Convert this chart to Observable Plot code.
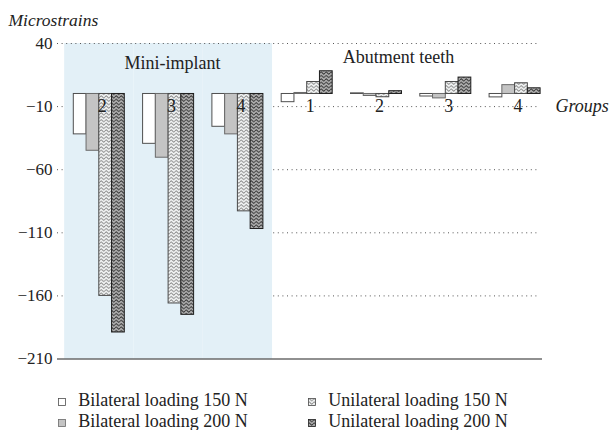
<!DOCTYPE html>
<html><head><meta charset="utf-8">
<script src="https://cdn.jsdelivr.net/npm/d3@7"></script>
<script src="https://cdn.jsdelivr.net/npm/@observablehq/plot@0.6"></script>
<style>
body{margin:0;background:#fff;font-family:"Liberation Serif",serif;}
#chart{position:relative;width:609px;height:430px;overflow:hidden;background:#fff}
#legend{position:relative;width:609px;height:58px;font-size:18px;color:#222;font-family:"Liberation Serif",serif}
#legend .sw{position:absolute;width:8px;height:8px}
#legend .lab{position:absolute;line-height:20px;white-space:nowrap}
</style></head><body>
<svg width="0" height="0" style="position:absolute">
<defs>
<pattern id="waveLight" patternUnits="userSpaceOnUse" width="5" height="3.4">
<rect width="5" height="3.4" fill="#f3f5f5"/>
<path d="M0,1.7 L1.25,0.6 L2.5,1.7 L3.75,2.8 L5,1.7" fill="none" stroke="#8a8a8a" stroke-width="0.9"/>
</pattern>
<pattern id="waveDark" patternUnits="userSpaceOnUse" width="5" height="3.4">
<rect width="5" height="3.4" fill="#b0b0b0"/>
<path d="M0,1.7 L1.25,0.6 L2.5,1.7 L3.75,2.8 L5,1.7" fill="none" stroke="#333" stroke-width="0.9"/>
</pattern>
</defs></svg>
<div id="chart"></div>
<script>
// ---- data ----
const miniGroups = ["M2", "M3", "M4"];
const abutmentGroups = ["A1", "A2", "A3", "A4"];
const groupKeys = [...miniGroups, ...abutmentGroups];
const groupLabels = ["2", "3", "4", "1", "2", "3", "4"];
const seriesNames = ["Bilateral loading 150 N", "Bilateral loading 200 N", "Unilateral loading 150 N", "Unilateral loading 200 N"];
const bilateral150 = [-32, -39.5, -26, -6.5, 0.5, -2, -2.7];
const bilateral200 = [-45, -50.5, -32, 0.8, -1.6, -3.5, 7];
const unilateral150 = [-160, -166, -93, 9.5, -2.6, 9.5, 8.5];
const unilateral200 = [-189, -175, -107, 18, 2.2, 13, 4.5];
const yTicks = [40, -10, -60, -110, -160, -210];
const gridTicks = [-10, -60, -110, -160];
const regionTitles = ["Mini-implant", "Abutment teeth"];
const yTitle = "Microstrains";
const xTitle = "Groups";

// ---- styles ----
const seriesValues = [bilateral150, bilateral200, unilateral150, unilateral200];
const seriesStyle = [
  {fill: "#ffffff", stroke: "#4f4f4f"},
  {fill: "#c4c4c4", stroke: "#6a6a6a"},
  {fill: "url(#waveLight)", stroke: "#4a4a4a"},
  {fill: "url(#waveDark)", stroke: "#1e1e1e"}
];
const xRange = [64.15, 549.25];
const padIn = 0.264, padOut = 0.132;
const step = (xRange[1] - xRange[0]) / (groupKeys.length - padIn + 2 * padOut);
const bw = step * (1 - padIn);
const sub = bw / seriesNames.length;
const halfGap = step * padIn / 2;

const barMarks = seriesValues.map((vals, s) =>
  Plot.barY(groupKeys.map((g, i) => ({group: g, value: vals[i]})), {
    x: "group", y: "value",
    fill: seriesStyle[s].fill, stroke: seriesStyle[s].stroke, strokeWidth: 1,
    insetLeft: s * sub, insetRight: (seriesNames.length - 1 - s) * sub
  })
);

const chart = Plot.plot({
  width: 609, height: 372,
  marginTop: 43, marginBottom: 13.5, marginLeft: 63, marginRight: 71,
  style: {fontFamily: "'Liberation Serif', serif", fontSize: "18px", color: "#222", background: "transparent", overflow: "visible"},
  x: {type: "band", domain: groupKeys, range: xRange, paddingInner: padIn, paddingOuter: padOut, round: false, axis: null},
  y: {domain: [-210, 40]},
  marks: [
    Plot.ruleY(gridTicks, {stroke: "#555", strokeDasharray: "1,3.6", insetLeft: -6}),
    Plot.barY(miniGroups, {x: d => d, y1: -210, y2: 40, fill: "#e3f0f7", insetLeft: -halfGap, insetRight: -halfGap}),
    Plot.ruleY([40], {stroke: "#555", strokeDasharray: "1,3.6", insetLeft: -6}),
    Plot.ruleY([-210], {stroke: "#222", strokeWidth: 1.2, insetLeft: -6, insetRight: -4}),
    ...barMarks,
    Plot.text(groupKeys, {x: d => d, y: -10, text: (d, i) => groupLabels[i], dx: 3, fill: "#222"}),
    Plot.text([regionTitles[0]], {x: () => miniGroups[1], y: 24, dx: 4, fill: "#222"}),
    Plot.text([regionTitles[1]], {x: () => abutmentGroups[1], y: 29, dx: 22, fill: "#222"}),
    Plot.text([xTitle], {frameAnchor: "right", y: -10, textAnchor: "start", lineAnchor: "middle", dx: 17, fontStyle: "italic", fill: "#222"}),
    Plot.text([yTitle], {frameAnchor: "top-left", dx: -55, dy: -23, textAnchor: "start", lineAnchor: "middle", fontStyle: "italic", fontSize: 17.5, fill: "#222"}),
    Plot.axisY({ticks: yTicks, tickSize: 0, tickPadding: 11, label: null, fill: "#222", fontSize: 17})
  ]
});

const root = document.getElementById("chart");
root.appendChild(chart);

// ---- legend (below the chart) ----
const legend = document.createElement("div");
legend.id = "legend";
const colX = [61.7, 311.7];
const rowY = [27.5, 49];
seriesNames.forEach((name, s) => {
  const col = Math.floor(s / 2), row = s % 2;
  const sw = document.createElementNS("http://www.w3.org/2000/svg", "svg");
  sw.setAttribute("class", "sw");
  sw.setAttribute("width", 8); sw.setAttribute("height", 8);
  sw.style.left = (colX[col] - 4) + "px";
  sw.style.top = (rowY[row] - 2) + "px";
  const r = document.createElementNS("http://www.w3.org/2000/svg", "rect");
  r.setAttribute("x", 0.5); r.setAttribute("y", 0.5); r.setAttribute("width", 7); r.setAttribute("height", 7);
  r.setAttribute("fill", seriesStyle[s].fill); r.setAttribute("stroke", seriesStyle[s].stroke); r.setAttribute("stroke-width", 0.8);
  sw.appendChild(r);
  legend.appendChild(sw);
  const t = document.createElement("div");
  t.className = "lab";
  t.textContent = name;
  t.style.left = (colX[col] + 16.5) + "px";
  t.style.top = (rowY[row] - 10) + "px";
  legend.appendChild(t);
});
root.appendChild(legend);
</script>
</body></html>
